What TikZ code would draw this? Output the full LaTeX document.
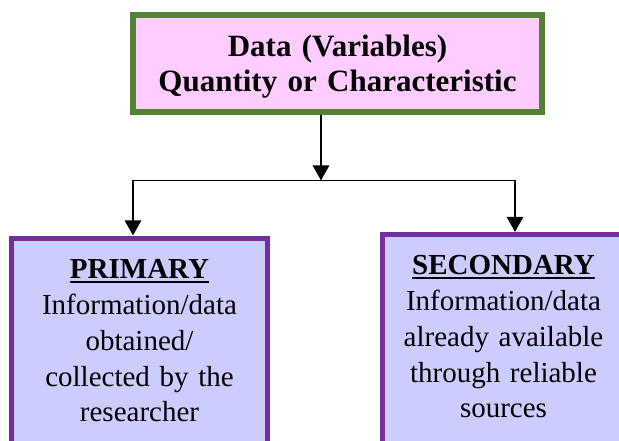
\documentclass[tikz,border=0pt]{standalone}
\usepackage{fontspec}
\setmainfont{Liberation Serif}
\usetikzlibrary{arrows.meta}

\definecolor{boxgreen}{RGB}{84,130,53}
\definecolor{boxpink}{RGB}{255,204,255}
\definecolor{boxpurple}{RGB}{112,48,160}
\definecolor{boxlilac}{RGB}{204,204,255}

% bold heading with a thick rule under it
\newcommand{\boxhead}[1]{\vtop{\hbox{\bfseries #1}\kern3pt\hrule height 2pt}}

\begin{document}
\begin{tikzpicture}[x=1pt, y=-1pt,
        topbox/.style={draw=boxgreen, fill=boxpink, line width=6pt, inner sep=0pt},
        typebox/.style={draw=boxpurple, fill=boxlilac, line width=5pt, inner sep=0pt},
        boxtext/.style={anchor=base, align=center, inner sep=0pt, font=\fontsize{29}{36}\selectfont},
        arr/.style={line width=2.5pt, -{Triangle[width=16pt,length=15pt]}},
        link/.style={line width=1.6pt}]
    \useasboundingbox (0,0) rectangle (619,441);
    \clip (0,0) rectangle (619,441);

    % the three boxes
    \node[topbox, minimum width=409pt, minimum height=97pt] (data) at (337.5,63.5) {};
    \node[typebox, minimum width=256pt, minimum height=233pt] (primary) at (139.5,354.5) {};
    \node[typebox, minimum width=242pt, minimum height=236pt] (secondary) at (503.5,352.5) {};

    % their texts
    \node[boxtext, font=\bfseries\fontsize{31}{35}\selectfont, text width=400pt] (data-txt) at (337.5,57)
        {Data (Variables)\\Quantity or Characteristic};
    \node[boxtext, text width=250pt] (primary-txt) at (139.5,278)
        {\boxhead{PRIMARY}\\Information/data\\obtained/\\collected by the\\researcher};
    \node[boxtext, text width=236pt] (secondary-txt) at (503.5,274)
        {\boxhead{SECONDARY}\\Information/data\\already available\\through reliable\\sources};

    % split point and the two branch ends
    \coordinate (split) at (321,180.5);
    \coordinate (lft) at (133,180.5);
    \coordinate (rgt) at (515,180.5);

    \draw[arr] (data.south -| split) -- (split); % down from the data box
    \draw[link] (lft) -- (rgt);                  % branch line
    \draw[arr] (lft) -- (primary.north -| lft);  % to primary
    \draw[arr] (rgt) -- (secondary.north -| rgt); % to secondary
\end{tikzpicture}
\end{document}
